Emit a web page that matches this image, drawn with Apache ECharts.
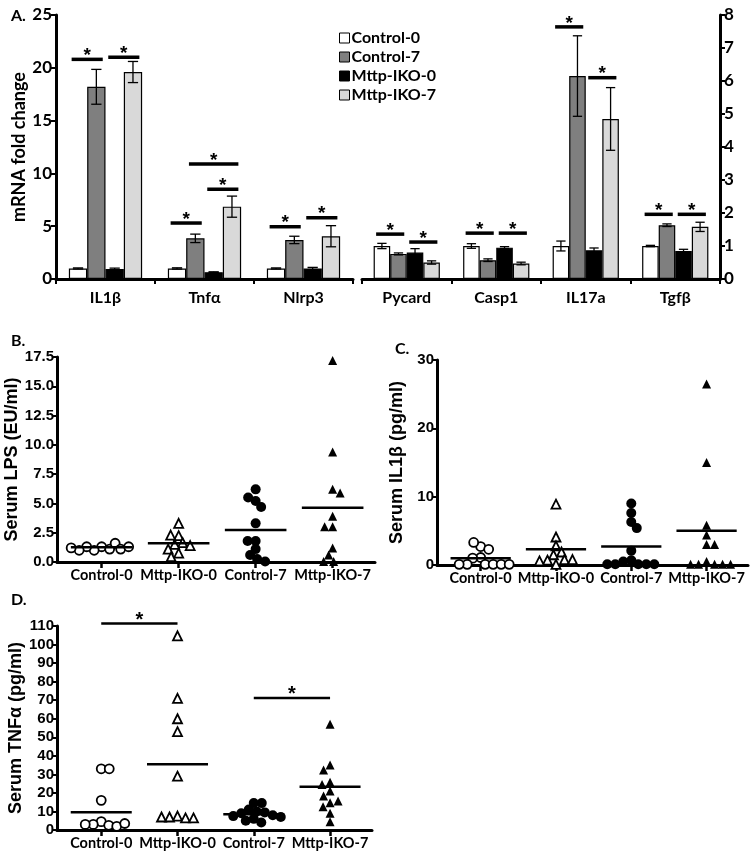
<!DOCTYPE html>
<html>
<head>
<meta charset="utf-8">
<script src="https://cdn.jsdelivr.net/npm/echarts@6/dist/echarts.min.js"></script>
<style>
html, body { margin: 0; background: #fff; }
#chart { width: 756px; height: 860px; }
</style>
</head>
<body>
<div id="chart"></div>
<script>
// ---- panel A: mRNA fold change ----
const groups = ['Control-0', 'Control-7', 'Mttp-IKO-0', 'Mttp-IKO-7']
const genesLeft = ['IL1β', 'Tnfα', 'Nlrp3']
const genesRight = ['Pycard', 'Casp1', 'IL17a', 'Tgfβ']

// one row per group, one value per gene
const leftMeans = [
    [1.0, 1.0, 1.0],
    [18.2, 3.85, 3.7],
    [0.95, 0.65, 1.0],
    [19.6, 6.85, 4.05]
]
const leftErrors = [
    [0.05, 0.06, 0.05],
    [1.65, 0.4, 0.35],
    [0.08, 0.03, 0.1],
    [1.0, 1.0, 1.0]
]
const rightMeans = [
    [1.0, 1.0, 1.0, 1.0],
    [0.76, 0.57, 6.15, 1.63],
    [0.8, 0.95, 0.87, 0.85],
    [0.5, 0.47, 4.85, 1.58]
]
const rightErrors = [
    [0.08, 0.07, 0.15, 0.02],
    [0.03, 0.04, 1.22, 0.04],
    [0.12, 0.03, 0.07, 0.05],
    [0.05, 0.04, 0.95, 0.14]
]
// [gene, from group, to group, height]
const leftSig = [[0, 0, 1, 20.8], [0, 2, 3, 21.0], [1, 0, 1, 5.3], [1, 2, 3, 8.5], [1, 1, 3, 10.9], [2, 0, 1, 4.95], [2, 2, 3, 5.8]]
const rightSig = [[0, 0, 1, 1.36], [0, 2, 3, 1.12], [1, 0, 1, 1.39], [1, 2, 3, 1.39], [2, 0, 1, 7.64], [2, 2, 3, 6.1], [3, 0, 1, 1.96], [3, 2, 3, 1.96]]

// ---- panels B, C, D: serum levels ----
const serumGroups = ['Control-0', 'Mttp-IKO-0', 'Control-7', 'Mttp-IKO-7']

const lpsValues = [
    [1.3, 1.1, 1.0, 1.3, 1.6, 1.1, 1.0, 1.3, 1.2],
    [3.3, 2.25, 2.3, 1.65, 1.5, 1.4, 1.1, 0.75, 0.45],
    [6.2, 5.2, 5.5, 4.7, 3.3, 1.8, 1.8, 1.1, 0.6, 0.25, 0.05],
    [17.2, 9.4, 6.2, 5.9, 3.9, 3.0, 3.0, 1.2, 0.6, 0.05, 0.05]
]
const lpsMeans = [1.25, 1.6, 2.73, 4.64]

const il1bValues = [
    [2.7, 2.3, 3.3, 1.1, 1.0, 0.1, 0.1, 0.1, 0.1, 0.1, 0.1],
    [8.9, 4.1, 2.8, 1.9, 1.5, 0.8, 0.7, 0.8, 0.6, 0.1],
    [9.0, 7.6, 6.3, 5.4, 2.1, 0.7, 0.5, 0.1, 0.1, 0.1, 0.1, 0.1],
    [26.5, 15.0, 5.8, 4.4, 3.0, 3.0, 0.5, 0.1, 0.1, 0.1, 0.1, 0.1]
]
const il1bMeans = [1.0, 2.3, 2.7, 5.0]

const tnfValues = [
    [33, 33, 16, 4.5, 3, 2.5, 2, 3, 3.5],
    [104.7, 71, 60, 53, 29, 7.5, 7, 6.5, 7, 6.5],
    [14.5, 14.5, 11, 10, 9.5, 9, 8, 7.5, 7, 6, 5, 4],
    [57, 35, 32.3, 25.7, 24.6, 21, 18.3, 14.7, 15.6, 12.6, 9, 4.5]
]
const tnfMeans = [9.6, 35.4, 8.5, 23.3]
// [from group, to group, height]
const tnfSig = [[0, 1, 111.3], [2, 3, 71.2]]

const chartEle = document.querySelector('#chart')
const chart = echarts.init(chartEle)

const BAR_GAP = 0.26
const BAR_COLORS = ['#ffffff', '#7f7f7f', '#000000', '#d9d9d9']
const A_FONT = 'Lato'
const P_FONT = 'Liberation Sans'

function barSeries(axisIdx, means) {
    return groups.map((name, g) => ({
        name: name,
        type: 'bar',
        xAxisIndex: axisIdx,
        yAxisIndex: axisIdx,
        barGap: '0%',
        barCategoryGap: (BAR_GAP * 100) + '%',
        itemStyle: { color: BAR_COLORS[g], borderColor: '#000', borderWidth: 1.2 },
        data: means[g],
        animation: false,
        silent: true
    }))
}

function barOffset(api, g) {
    const band = api.size([1, 0])[0]
    const barW = band * (1 - BAR_GAP) / 4
    return { barW: barW, dx: (g - 1.5) * barW }
}

function errorSeries(axisIdx, means, errors) {
    const data = []
    means.forEach((row, g) => row.forEach((m, i) => data.push([i, g, m, errors[g][i]])))
    return {
        type: 'custom',
        xAxisIndex: axisIdx,
        yAxisIndex: axisIdx,
        encode: { x: 0, y: 2 },
        silent: true,
        z: 5,
        renderItem: (params, api) => {
            const gene = api.value(0)
            const g = api.value(1)
            const m = api.value(2)
            const e = api.value(3)
            const { barW, dx } = barOffset(api, g)
            const x = api.coord([gene, m])[0] + dx
            const top = api.coord([gene, m + e])[1]
            const bot = api.coord([gene, m - e])[1]
            const cap = barW * 0.28
            const lineStyle = { stroke: '#000', lineWidth: 1.3 }
            return {
                type: 'group',
                children: [
                    { type: 'line', shape: { x1: x, y1: top, x2: x, y2: bot }, style: lineStyle },
                    { type: 'line', shape: { x1: x - cap, y1: top, x2: x + cap, y2: top }, style: lineStyle },
                    { type: 'line', shape: { x1: x - cap, y1: bot, x2: x + cap, y2: bot }, style: lineStyle }
                ]
            }
        },
        data: data
    }
}

function barSigSeries(axisIdx, sig) {
    return {
        type: 'custom',
        xAxisIndex: axisIdx,
        yAxisIndex: axisIdx,
        encode: { x: 0, y: 3 },
        silent: true,
        z: 6,
        renderItem: (params, api) => {
            const gene = api.value(0)
            const a = barOffset(api, api.value(1))
            const b = barOffset(api, api.value(2))
            const p = api.coord([gene, api.value(3)])
            const x1 = p[0] + a.dx - a.barW * 0.35
            const x2 = p[0] + b.dx + b.barW * 0.35
            return {
                type: 'group',
                children: [
                    { type: 'line', shape: { x1: x1, y1: p[1], x2: x2, y2: p[1] }, style: { stroke: '#000', lineWidth: 3.5 } },
                    {
                        type: 'text', x: (x1 + x2) / 2, y: p[1] - 13,
                        style: { text: '*', fill: '#000', font: 'bold 19px ' + P_FONT, align: 'center', verticalAlign: 'top' }
                    }
                ]
            }
        },
        data: sig
    }
}

// simple beeswarm: horizontal pixel offsets so points do not sit on each other
function swarm(values, pxPerUnit, minDist) {
    const placed = []
    return values.map(v => {
        const y = v * pxPerUnit
        let dx = 0
        for (let d = 0; d < 80; d += 0.5) {
            const tries = d === 0 ? [0] : (placed.length % 2 ? [d, -d] : [-d, d])
            const ok = tries.find(c => placed.every(p => (p.x - c) ** 2 + (p.y - y) ** 2 >= minDist * minDist))
            if (ok !== undefined) {
                dx = ok
                break
            }
        }
        placed.push({ x: dx, y: y })
        return dx
    })
}

const SYMBOLS = [
    { symbol: 'circle', fill: '#fff', size: 9 },
    { symbol: 'triangle', fill: '#fff', size: 9 },
    { symbol: 'circle', fill: '#000', size: 10 },
    { symbol: 'triangle', fill: '#000', size: 9 }
]

function serumSeries(axisIdx, values, means, pxPerUnit, sig) {
    const list = values.map((vals, g) => {
        const offsets = swarm(vals, pxPerUnit, 8)
        const s = SYMBOLS[g]
        return {
            type: 'scatter',
            xAxisIndex: axisIdx,
            yAxisIndex: axisIdx,
            symbol: s.symbol,
            symbolSize: s.size,
            itemStyle: { color: s.fill, borderColor: '#000', borderWidth: s.fill === '#fff' ? 1.8 : 0, opacity: 1 },
            silent: true,
            animation: false,
            data: vals.map((v, i) => ({ value: [g, v], symbolOffset: [offsets[i], 0] }))
        }
    })

    list.push({
        type: 'custom',
        xAxisIndex: axisIdx,
        yAxisIndex: axisIdx,
        silent: true,
        z: 5,
        renderItem: (params, api) => {
            const l = api.coord([api.value(0) - 0.4, api.value(1)])
            const r = api.coord([api.value(0) + 0.4, api.value(1)])
            return { type: 'line', shape: { x1: l[0], y1: l[1], x2: r[0], y2: r[1] }, style: { stroke: '#000', lineWidth: 2.5 } }
        },
        data: means.map((m, g) => [g, m])
    })

    if (sig) {
        list.push({
            type: 'custom',
            xAxisIndex: axisIdx,
            yAxisIndex: axisIdx,
            encode: { x: 0, y: 2 },
            silent: true,
            z: 5,
            renderItem: (params, api) => {
                const a = api.coord([api.value(0), api.value(2)])
                const b = api.coord([api.value(1), api.value(2)])
                return {
                    type: 'group',
                    children: [
                        { type: 'line', shape: { x1: a[0], y1: a[1], x2: b[0], y2: b[1] }, style: { stroke: '#000', lineWidth: 2.5 } },
                        {
                            type: 'text', x: (a[0] + b[0]) / 2, y: a[1] - 13,
                            style: { text: '*', fill: '#000', font: 'bold 20px ' + P_FONT, align: 'center', verticalAlign: 'top' }
                        }
                    ]
                }
            },
            data: sig
        })
    }
    return list
}

function geneAxis(gridIdx, genes) {
    return {
        type: 'category',
        gridIndex: gridIdx,
        data: genes,
        axisLine: { lineStyle: { color: '#000', width: 3 } },
        axisTick: { show: true, length: 5, lineStyle: { color: '#000', width: 2 } },
        axisLabel: { color: '#000', fontFamily: A_FONT, fontWeight: 'bold', fontSize: 16, margin: 11 },
        splitLine: { show: false }
    }
}

function serumXAxis(gridIdx) {
    return {
        type: 'value',
        gridIndex: gridIdx,
        min: -0.58,
        max: 3.55,
        axisLine: { onZero: false, lineStyle: { color: '#000', width: 3 } },
        axisTick: { show: true, customValues: [0, 1, 2, 3], length: 6, lineStyle: { color: '#000', width: 2.5 } },
        axisLabel: {
            customValues: [0, 1, 2, 3],
            formatter: v => serumGroups[Math.round(v)],
            hideOverlap: false,
            color: '#000', fontFamily: A_FONT, fontWeight: 'bold', fontSize: 14.5, margin: 6
        },
        splitLine: { show: false }
    }
}

function serumYAxis(gridIdx, max, interval, name, digits) {
    return {
        type: 'value',
        gridIndex: gridIdx,
        min: 0,
        max: max,
        interval: interval,
        name: name,
        nameLocation: 'middle',
        nameGap: 31,
        nameTextStyle: { color: '#000', fontFamily: P_FONT, fontWeight: 'bold', fontSize: 18 },
        axisLine: { show: true, onZero: false, lineStyle: { color: '#000', width: 3 } },
        axisTick: { show: true, length: 4, lineStyle: { color: '#000', width: 2 } },
        axisLabel: { color: '#000', fontFamily: P_FONT, fontWeight: 'bold', fontSize: 15, margin: 3, formatter: v => v.toFixed(digits) },
        splitLine: { show: false }
    }
}

const option = {
    backgroundColor: '#fff',
    animation: false,
    title: [
        { text: 'A.', left: 6, top: 3, textStyle: { fontFamily: A_FONT, fontWeight: 'bold', fontSize: 16, color: '#000' } },
        { text: 'B.', left: 6, top: 328, textStyle: { fontFamily: A_FONT, fontWeight: 'bold', fontSize: 16, color: '#000' } },
        { text: 'C.', left: 390, top: 336, textStyle: { fontFamily: A_FONT, fontWeight: 'bold', fontSize: 16, color: '#000' } },
        { text: 'D.', left: 6, top: 587, textStyle: { fontFamily: A_FONT, fontWeight: 'bold', fontSize: 16, color: '#000' } }
    ],
    legend: {
        data: groups,
        orient: 'vertical',
        left: 334,
        top: 25,
        icon: 'rect',
        itemWidth: 10,
        itemHeight: 10,
        itemGap: 3,
        selectedMode: false,
        itemStyle: { borderColor: '#000', borderWidth: 1 },
        textStyle: { color: '#000', fontFamily: A_FONT, fontWeight: 'bold', fontSize: 16, padding: [0, 0, 0, -3] }
    },
    grid: [
        { left: 56, top: 15, width: 297, height: 264, outerBoundsMode: 'none' },
        { left: 362, top: 15, width: 358, height: 264, outerBoundsMode: 'none' },
        { left: 57, top: 357, width: 318, height: 205, outerBoundsMode: 'none' },
        { left: 437, top: 360, width: 311, height: 205, outerBoundsMode: 'none' },
        { left: 57, top: 626, width: 315, height: 204, outerBoundsMode: 'none' }
    ],
    xAxis: [
        geneAxis(0, genesLeft),
        geneAxis(1, genesRight),
        serumXAxis(2),
        serumXAxis(3),
        serumXAxis(4)
    ],
    yAxis: [
        {
            type: 'value', gridIndex: 0, min: 0, max: 25, interval: 5,
            name: 'mRNA fold change', nameLocation: 'middle', nameGap: 26,
            nameTextStyle: { color: '#000', fontFamily: A_FONT, fontWeight: 'bold', fontSize: 18 },
            axisLine: { show: true, lineStyle: { color: '#000', width: 3 } },
            axisTick: { show: true, length: 5, lineStyle: { color: '#000', width: 2 } },
            axisLabel: { color: '#000', fontFamily: A_FONT, fontWeight: 'bold', fontSize: 17, margin: 4 },
            splitLine: { show: false }
        },
        {
            type: 'value', gridIndex: 1, position: 'right', min: 0, max: 8, interval: 1,
            axisLine: { show: true, lineStyle: { color: '#000', width: 3 } },
            axisTick: { show: true, length: 5, lineStyle: { color: '#000', width: 2 } },
            axisLabel: { color: '#000', fontFamily: A_FONT, fontWeight: 'bold', fontSize: 17, margin: 4 },
            splitLine: { show: false }
        },
        serumYAxis(2, 17.5, 2.5, 'Serum LPS (EU/ml)', 1),
        serumYAxis(3, 30, 10, 'Serum IL1β (pg/ml)', 0),
        serumYAxis(4, 110, 10, 'Serum TNFα (pg/ml)', 0)
    ],
    series: [
        ...barSeries(0, leftMeans),
        ...barSeries(1, rightMeans),
        errorSeries(0, leftMeans, leftErrors),
        errorSeries(1, rightMeans, rightErrors),
        barSigSeries(0, leftSig),
        barSigSeries(1, rightSig),
        ...serumSeries(2, lpsValues, lpsMeans, 205 / 17.5),
        ...serumSeries(3, il1bValues, il1bMeans, 205 / 30),
        ...serumSeries(4, tnfValues, tnfMeans, 204 / 110, tnfSig)
    ]
}

chart.setOption(option)
</script>
</body>
</html>
